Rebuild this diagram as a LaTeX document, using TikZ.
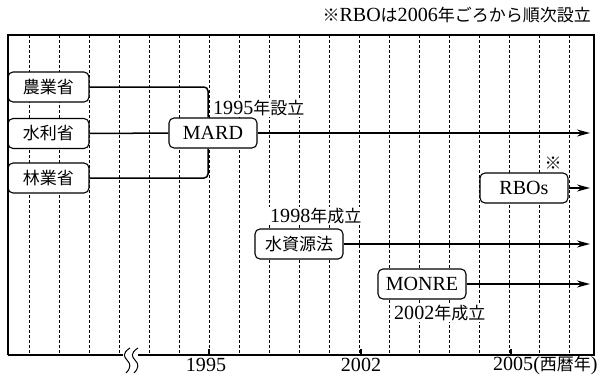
\documentclass[tikz,border=0pt]{standalone}
\usepackage{fontspec}
\setmainfont[Scale=1.18]{Liberation Serif}
\newfontfamily\jp{Noto Sans CJK JP}
\usetikzlibrary{arrows.meta}

\begin{document}
\begin{tikzpicture}[x=1pt, y=-1pt, font=\fontsize{17}{20}\selectfont]
  \tikzstyle{bx} = [draw, line width=1.1pt, rounded corners=5pt, fill=white, minimum height=30pt, inner sep=0pt]
  \tikzstyle{lb} = [fill=white, inner sep=1pt]
  \tikzstyle{e} = [line width=1.5pt, rounded corners=4pt]
  \tikzstyle{ar} = [line width=1.5pt, -{Stealth[length=13pt, width=7pt]}]
  \tikzstyle{g} = [densely dashed, line width=0.5pt]
  \useasboundingbox (0,0) rectangle (603,376);

  % grid
  \foreach \i in {0,...,18}
    \draw[g] (29+30*\i,35) -- (29+30*\i,355);

  % boxes
  \node[bx, minimum width=81pt](nou) at (48.5,87){\jp 農業省};
  \node[bx, minimum width=81pt](sui) at (48.5,133.5){\jp 水利省};
  \node[bx, minimum width=81pt](rin) at (48.5,178){\jp 林業省};
  \node[bx, minimum width=88pt](mard) at (213,133){MARD};
  \node[bx, minimum width=88pt](law) at (299,244){\jp 水資源法};
  \node[bx, minimum width=88pt](monre) at (422,284){MONRE};
  \node[bx, minimum width=88pt](rbo) at (524,188){RBOs};

  % frame
  \draw[line width=1.1pt] (8,355) -- (8,35) -- (594,35) -- (594,355) -- (138,355);
  \draw[line width=1.1pt] (8,355) -- (123,355);
  \draw[line width=1pt] (130,348) .. controls (122,353) and (124,357) .. (127,360)
    .. controls (131,364) and (131,368) .. (126,373);
  \draw[line width=1pt] (138,348) .. controls (130,353) and (132,357) .. (135,360)
    .. controls (139,364) and (139,368) .. (134,373);

  % ticks
  \draw[line width=1.1pt] (209,355) -- (209,349);
  \draw[line width=1.1pt] (361,355) -- (361,349);
  \draw[line width=1.1pt] (511,355) -- (511,349);

  % arrow ends
  \coordinate (t1) at (590,133);
  \coordinate (t2) at (590,188);
  \coordinate (t3) at (590,243);
  \coordinate (t4) at (590,284);

  \draw[e](nou.east) -| (mard.north -| 208,0);
  \draw[e](rin.east) -| (mard.south -| 208,0);
  \draw[e](sui) -- (mard);

  \draw[ar](mard) -- (t1);
  \draw[ar](rbo) -- (t2);
  \draw[ar](law.east) -- (law.east -| t3);
  \draw[ar](monre) -- (t4);

  % labels
  \node[lb, anchor=west](l1) at (212,108){1995{\jp 年設立}};
  \node[lb, anchor=west](l2) at (269,216){1998{\jp 年成立}};
  \node[lb, anchor=west](l3) at (393,313){2002{\jp 年成立}};
  \node[lb](star) at (553,163){\jp ※};
  \node[anchor=east](note) at (595,15){{\jp ※}RBO{\jp は}2006{\jp 年ごろから順次設立}};

  \node(y1) at (206,365){1995};
  \node(y2) at (361,365){2002};
  \node[anchor=west](y3) at (489,365){2005({\jp 西暦年})};
\end{tikzpicture}
\end{document}
